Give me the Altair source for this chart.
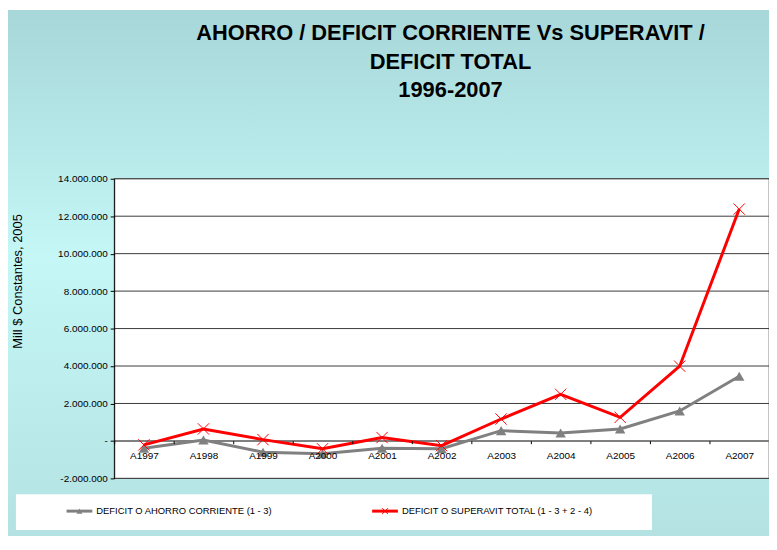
import altair as alt
import pandas as pd

# ---------------- data ----------------
years = ["A1997", "A1998", "A1999", "A2000", "A2001", "A2002",
         "A2003", "A2004", "A2005", "A2006", "A2007"]
corriente = [-390000, 50000, -600000, -690000, -390000, -420000,
             550000, 420000, 640000, 1600000, 3450000]
total = [-210000, 640000, 70000, -420000, 180000, -250000,
         1170000, 2490000, 1260000, 3990000, 12380000]
series_names = ["DEFICIT O AHORRO CORRIENTE (1 - 3)",
                "DEFICIT O SUPERAVIT TOTAL (1 - 3 + 2 - 4)"]
title_lines = ["AHORRO / DEFICIT CORRIENTE Vs SUPERAVIT /",
               "DEFICIT TOTAL", "1996-2007"]
y_title = "Mill $ Constantes, 2005"
y_ticks = [-2000000, 0, 2000000, 4000000, 6000000, 8000000,
           10000000, 12000000, 14000000]

# ---------------- layout ----------------
W, H = 660, 302
PL, PT, PR, PB = 107, 170, 0, 58
FONT = "Liberation Sans"
GRAY = "#808080"
RED = "#FF0000"

yscale = alt.Scale(domain=[y_ticks[0], y_ticks[-1]], nice=False, zero=False)
xscale = alt.Scale(type="band", domain=years, paddingInner=0, paddingOuter=0)

label_expr = ("datum.value == 0 ? '-\u00a0\u00a0\u00a0\u00a0\u00a0' : "
              "(datum.value < 0 ? '-' : '') + "
              "join(split(format(abs(datum.value), ','), ','), '.')")

y_axis = alt.Axis(values=y_ticks, labelExpr=label_expr, grid=False,
                  domain=True, domainColor="black", domainWidth=1,
                  ticks=True, tickColor="black", tickSize=4,
                  labelFont=FONT, labelFontSize=10, labelColor="black",
                  labelPadding=3, title=y_title, titleFont=FONT,
                  titleFontSize=13, titleFontWeight="normal",
                  titleColor="black", titleAngle=-90, titleX=-97,
                  titleY=103, titleAlign="center", titleBaseline="middle",
                  zindex=1)
x_axis = alt.Axis(title=None, domain=False, ticks=True, tickBand="extent",
                  tickSize=3, tickColor="black", labelAngle=0,
                  labelFont=FONT, labelFontSize=10, labelColor="black",
                  labelPadding=7, offset=-38, grid=False, zindex=1)

one = pd.DataFrame({"k": [0]})

gradient = alt.LinearGradient(
    gradient="linear",
    stops=[alt.GradientStop(offset=0, color="#A7D7D8"),
           alt.GradientStop(offset=0.47, color="#C5F7F7"),
           alt.GradientStop(offset=1, color="#B4E2E2")],
    x1=0, x2=0, y1=0, y2=1)

bg = alt.Chart(one).mark_rect(fill=gradient, strokeWidth=0).encode(
    x=alt.value(-PL), x2=alt.value(W + PR),
    y=alt.value(-PT), y2=alt.value(H + PB))

plot_bg = alt.Chart(one).mark_rect(fill="white", stroke="#888888",
                                   strokeWidth=1).encode(
    x=alt.value(0), x2=alt.value(W), y=alt.value(0), y2=alt.value(H))

grid_df = pd.DataFrame({"v": [t for t in y_ticks if t != 0]})
grid = alt.Chart(grid_df).mark_rule(color="#3a3a3a", strokeWidth=1).encode(
    y=alt.Y("v:Q", scale=yscale, axis=y_axis))

zero = alt.Chart(pd.DataFrame({"v": [0]})).mark_rule(
    color=GRAY, strokeWidth=2).encode(
    y=alt.Y("v:Q", scale=yscale, axis=y_axis))

df_c = pd.DataFrame({"year": years, "value": corriente})
df_t = pd.DataFrame({"year": years, "value": total})

enc = dict(x=alt.X("year:N", scale=xscale, axis=x_axis, sort=years),
           y=alt.Y("value:Q", scale=yscale, axis=y_axis))

line_c = alt.Chart(df_c).mark_line(color=GRAY, strokeWidth=3).encode(**enc)
pts_c = alt.Chart(df_c).mark_point(shape="triangle-up", filled=True,
                                   color=GRAY, size=110,
                                   opacity=1).encode(**enc)
XSHAPE = "M-1,-1L1,1M-1,1L1,-1"
line_t = alt.Chart(df_t).mark_line(color=RED, strokeWidth=3).encode(**enc)
pts_t = alt.Chart(df_t).mark_point(shape=XSHAPE, filled=False, color=RED,
                                   strokeWidth=1, size=130,
                                   opacity=1).encode(**enc)

title = alt.Chart(one).mark_text(font=FONT, fontSize=22, fontWeight="bold",
                                 align="center", baseline="alphabetic",
                                 lineHeight=29, color="black").encode(
    x=alt.value(339), y=alt.value(-140), text=alt.value(title_lines))

# legend box
LY = 335
leg_box = alt.Chart(one).mark_rect(fill="white", strokeWidth=0).encode(
    x=alt.value(-99), x2=alt.value(542), y=alt.value(318), y2=alt.value(354))
leg_l1 = alt.Chart(one).mark_rule(color=GRAY, strokeWidth=3).encode(
    x=alt.value(-48), x2=alt.value(-22), y=alt.value(LY))
leg_p1 = alt.Chart(one).mark_point(shape="triangle-up", filled=True,
                                   color=GRAY, size=35, opacity=1).encode(
    x=alt.value(-35), y=alt.value(LY))
leg_t1 = alt.Chart(one).mark_text(font=FONT, fontSize=9.5, align="left",
                                  baseline="middle", color="black").encode(
    x=alt.value(-18), y=alt.value(LY), text=alt.value(series_names[0]))
leg_l2 = alt.Chart(one).mark_rule(color=RED, strokeWidth=3).encode(
    x=alt.value(260), x2=alt.value(286), y=alt.value(LY))
leg_p2 = alt.Chart(one).mark_point(shape=XSHAPE, filled=False, color=RED,
                                   strokeWidth=1, size=35, opacity=1).encode(
    x=alt.value(273), y=alt.value(LY))
leg_t2 = alt.Chart(one).mark_text(font=FONT, fontSize=9.5, align="left",
                                  baseline="middle", color="black").encode(
    x=alt.value(290), y=alt.value(LY), text=alt.value(series_names[1]))

chart = alt.layer(
    bg, plot_bg, grid, zero, line_c, pts_c, line_t, pts_t, title,
    leg_box, leg_l1, leg_p1, leg_t1, leg_l2, leg_p2, leg_t2
).properties(
    width=W, height=H,
    autosize=alt.AutoSizeParams(type="none"),
    padding={"left": PL, "top": PT, "right": PR, "bottom": PB},
    background="white"
).configure_view(stroke=None)

chart.save("out.html", embed_options={"renderer": "svg", "actions": False})
